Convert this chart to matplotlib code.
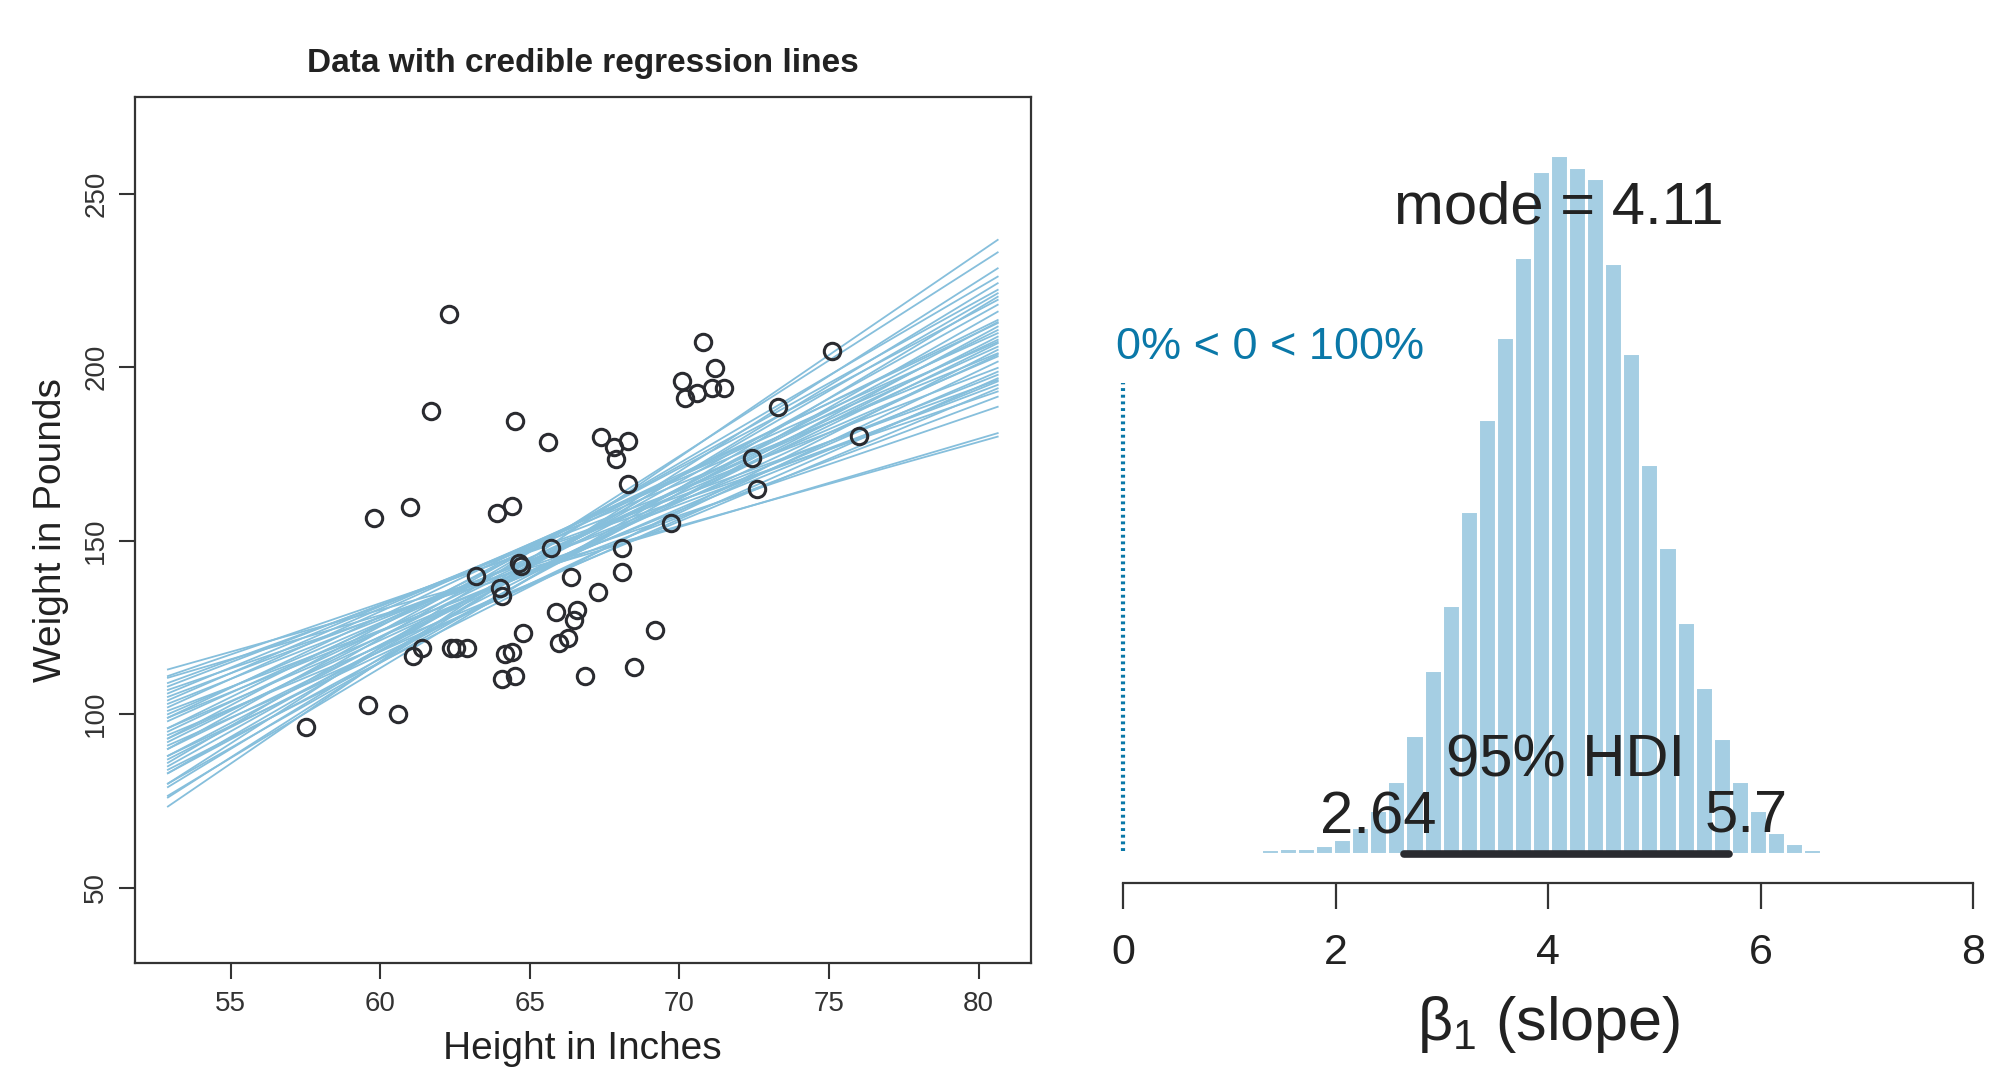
import matplotlib
matplotlib.use('Agg')
import matplotlib.pyplot as plt
import numpy as np

plt.rcParams['font.family'] = ['Liberation Sans', 'DejaVu Sans']
plt.rcParams['mathtext.fontset'] = 'custom'
plt.rcParams['mathtext.rm'] = 'Liberation Sans'
plt.rcParams['mathtext.it'] = 'Liberation Sans:italic'

# ---------------- data: scatter ----------------
height_in = [62.30, 61.70, 64.50, 65.61, 59.80, 60.99, 63.89, 64.41, 65.70, 63.19,
             64.64, 64.70, 63.99, 64.08, 66.39, 65.89, 66.57, 66.48, 64.78, 61.41,
             61.10, 62.36, 62.52, 62.91, 64.17, 64.39, 65.98, 66.29, 64.08, 64.50,
             66.85, 59.59, 60.59, 57.51, 70.79, 75.09, 71.19, 70.10, 70.60, 71.10,
             71.49, 70.18, 73.30, 67.39, 67.82, 68.29, 67.87, 76.01, 72.41, 68.29,
             72.61, 69.71, 68.09, 68.09, 67.29, 69.19, 68.48]
weight_lb = [215.3, 187.4, 184.5, 178.4, 156.6, 159.8, 158.0, 160.0, 148.0, 139.9,
             143.5, 142.7, 136.3, 134.1, 139.4, 129.6, 130.1, 127.2, 123.3, 119.2,
             116.8, 119.2, 119.0, 119.0, 117.4, 117.8, 120.6, 121.9, 110.2, 111.0,
             111.0, 102.7, 100.0, 96.4, 207.4, 204.7, 199.7, 196.1, 192.7, 194.1,
             193.9, 191.1, 188.5, 180.0, 177.1, 178.6, 173.6, 180.2, 173.9, 166.4,
             164.8, 155.0, 148.0, 140.9, 135.3, 124.3, 113.5]

# ---------------- data: credible regression lines (y at both ends) ----------------
line_x_ends = [52.9, 80.64]
line_y_left = [73.4, 80.0, 76.0, 86.0, 79.0, 90.0, 83.0, 76.5, 93.0, 85.0,
               80.0, 96.0, 88.0, 99.0, 83.0, 92.0, 102.0, 87.0, 95.0, 104.0,
               90.0, 98.0, 84.0, 106.0, 93.0, 100.0, 88.0, 108.0, 96.0, 103.0,
               91.0, 109.0, 99.0, 105.0, 94.0, 111.0, 101.0, 107.0, 110.5, 112.9]
line_y_right = [236.7, 233.1, 228.5, 226.1, 224.2, 222.3, 221.3, 220.3, 219.4, 218.0,
                216.0, 213.6, 213.0, 212.7, 211.7, 210.7, 209.8, 208.8, 207.9, 207.3,
                206.9, 205.9, 205.0, 204.0, 203.6, 203.1, 201.6, 199.8, 198.7, 197.8,
                196.8, 196.3, 195.9, 194.9, 193.9, 193.0, 191.5, 188.6, 181.0, 180.0]

# ---------------- data: posterior of slope ----------------
hist_first_edge = 1.297
hist_bin_width = 0.17
hist_density = [0.0034, 0.0046, 0.0046, 0.0064, 0.0107, 0.0199, 0.0321, 0.0535, 0.0869, 0.1343,
                0.1818, 0.2506, 0.3173, 0.3771, 0.4360, 0.4988, 0.5102, 0.5012, 0.4937, 0.4316,
                0.3659, 0.2847, 0.2243, 0.1693, 0.1217, 0.0845, 0.0535, 0.0321, 0.0161, 0.0082,
                0.0039, 0.0020, 0.0010, 0.0006]
slope_mode = 4.11
hdi_low, hdi_high = 2.64, 5.7
comp_val = 0.0
pct_below, pct_above = 0, 100

x_ticks_left = [55, 60, 65, 70, 75, 80]
y_ticks_left = [50, 100, 150, 200, 250]
x_ticks_right = [0, 2, 4, 6, 8]

LINE_COL = '#86bfdc'
BAR_COL = '#a5cee3'
DARK = '#2a2b30'
BLUE_TXT = '#0a78a8'

fig = plt.figure(figsize=(20, 10.84), dpi=100)

# ================= left panel =================
ax = fig.add_axes([0.0675, 0.1113, 0.4478, 0.7993])
for yl, yr in zip(line_y_left, line_y_right):
    ax.plot(line_x_ends, [yl, yr], color=LINE_COL, lw=1.3, zorder=2)
ax.plot(height_in, weight_lb, linestyle='none', marker='o', markersize=11.8,
        markerfacecolor='none', markeredgecolor=DARK, markeredgewidth=2.2, zorder=3)
ax.set_xlim(51.8, 81.74)
ax.set_ylim(28.2, 277.9)
ax.set_xticks(x_ticks_left)
ax.set_yticks(y_ticks_left)
ax.tick_params(axis='both', direction='out', length=11.5, width=1.5, color='#333333',
               labelsize=20, labelcolor='#333333')
ax.tick_params(axis='x', pad=8.5)
ax.tick_params(axis='y', pad=7)
for lab in ax.get_yticklabels():
    lab.set_rotation(90)
    lab.set_va('center')
for sp in ax.spines.values():
    sp.set_linewidth(1.6)
    sp.set_color('#333333')
ax.set_xlabel('Height in Inches', fontsize=28, color='#222222', labelpad=10)
ax.set_ylabel('Weight in Pounds', fontsize=28, color='#222222', labelpad=10)
ax.set_title('Data with credible regression lines', fontsize=24, fontweight='bold',
             color='#222222', pad=18)

# ================= right panel =================
ax2 = fig.add_axes([0.5615, 0.1851, 0.4252, 0.7222])
lefts = [hist_first_edge + i * hist_bin_width for i in range(len(hist_density))]
ax2.bar(lefts, hist_density, width=hist_bin_width, align='edge', color=BAR_COL,
        edgecolor='white', linewidth=2.2, zorder=1)
ax2.set_xlim(0, 8)
ax2.set_ylim(-0.0214, 0.55)
for s in ['top', 'right', 'left']:
    ax2.spines[s].set_visible(False)
ax2.spines['bottom'].set_linewidth(1.6)
ax2.spines['bottom'].set_color('#333333')
ax2.set_yticks([])
ax2.set_xticks(x_ticks_right)
ax2.tick_params(axis='x', direction='out', length=19, width=1.6, color='#333333',
                labelsize=31, labelcolor='#222222', pad=17)

# HDI bar
ax2.plot([hdi_low, hdi_high], [0, 0], color=DARK, lw=5.5, solid_capstyle='round', zorder=3)
ax2.text(4.165, 0.0564, '95% HDI', fontsize=43, color='#222222', ha='center', va='baseline', zorder=4)
ax2.text(2.40, 0.0151, f'{hdi_low:g}', fontsize=43, color='#222222', ha='center', va='baseline', zorder=4)
ax2.text(5.867, 0.0163, f'{hdi_high:g}', fontsize=43, color='#222222', ha='center', va='baseline', zorder=4)
ax2.text(4.10, 0.460, f'mode = {slope_mode:g}', fontsize=43, color='#222222', ha='center',
         va='baseline', zorder=4)

# comparison value
ax2.plot([comp_val, comp_val], [0.002, 0.344], color=BLUE_TXT, lw=3.0, linestyle=(0, (0.7, 0.9)),
         clip_on=False, zorder=2)
ax2.text(comp_val - 0.07, 0.370, f'{pct_below}% < {comp_val:g} < {pct_above}%', fontsize=32.5,
         color=BLUE_TXT, ha='left', va='center')

ax2.set_xlabel('$\\mathrm{\\beta}_1$ (slope)', fontsize=44, color='#222222', labelpad=15)

fig.savefig('out.png', dpi=100, facecolor='white')
